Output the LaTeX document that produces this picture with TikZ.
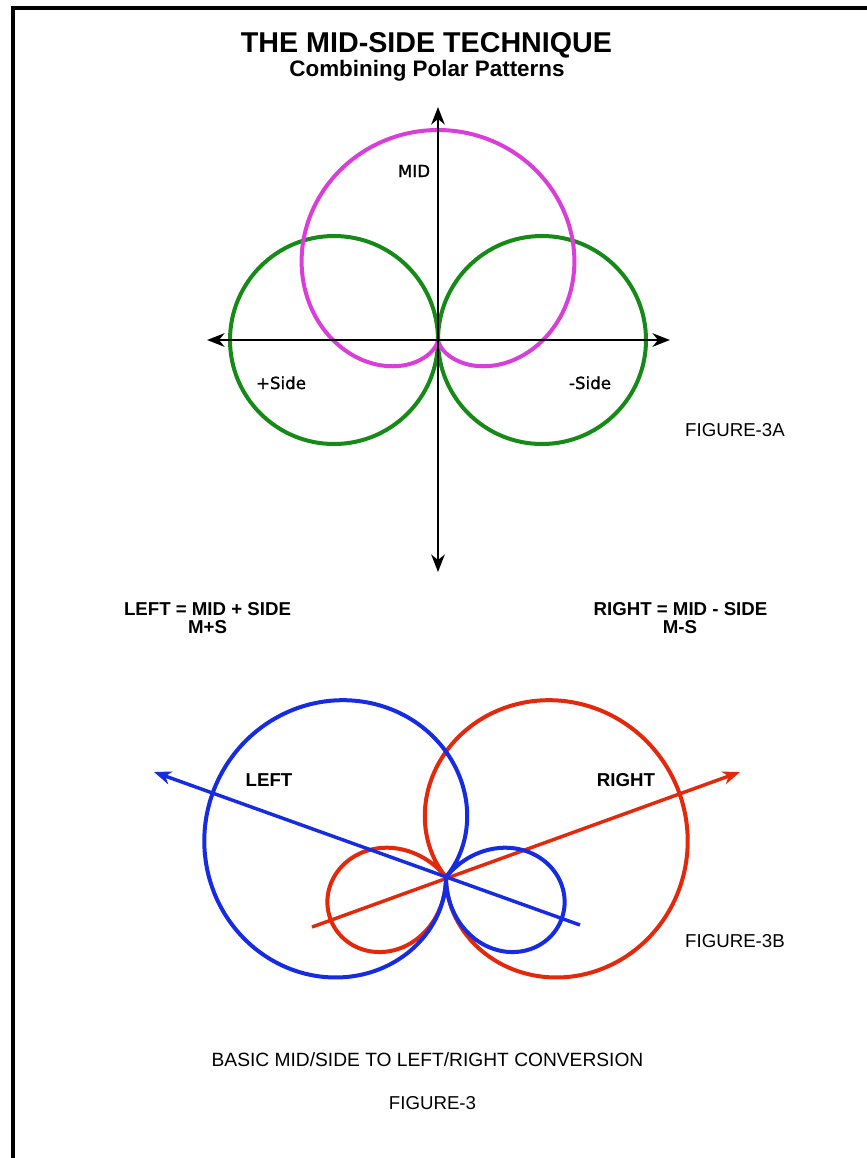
\documentclass[tikz,border=0pt]{standalone}
\usepackage{fontspec}
\setmainfont{Liberation Sans}
\newfontfamily\lblfont{DejaVu Sans}[FakeBold=1.2]
\usetikzlibrary{arrows.meta}
\definecolor{magentaP}{RGB}{218,62,218}
\definecolor{greenP}{RGB}{22,138,22}
\definecolor{blueP}{RGB}{22,44,226}
\definecolor{redP}{RGB}{228,40,12}
\tikzset{
  frameline/.style={line width=3pt,line join=miter},
  axisline/.style={line width=2.2pt,black,{Stealth[length=13pt,width=10pt,inset=4pt]}-{Stealth[length=13pt,width=10pt,inset=4pt]}},
  patt/.style={line width=3pt,line join=round},
  dirarrow/.style={line width=2.6pt,-{Stealth[length=13pt,width=10pt,inset=4pt]}},
  title/.style={font=\bfseries\fontsize{21.5}{24}\selectfont,anchor=base,inner sep=0pt},
  subtitle/.style={font=\bfseries\fontsize{16.8}{19}\selectfont,anchor=base,inner sep=0pt},
  plabel/.style={font=\lblfont\fontsize{12.5}{14}\selectfont,anchor=base,inner sep=0pt},
  eqlabel/.style={font=\bfseries\fontsize{14}{16}\selectfont,anchor=base,inner sep=0pt},
  figlabel/.style={font=\fontsize{14}{16}\selectfont,anchor=base,inner sep=0pt},
  caplabel/.style={font=\fontsize{14.4}{16}\selectfont,anchor=base,inner sep=0pt},
}
\begin{document}
\begin{tikzpicture}[x=0.75pt,y=-0.75pt]
\useasboundingbox (0,0) rectangle (867,1158);
\fill[white] (0,0) rectangle (867,1158);
% frame
\coordinate (fbl) at (12.5,1160);
\coordinate (ftl) at (12.5,8);
\coordinate (ftr) at (869,8);
\draw[frameline] (fbl) -- (ftl) -- (ftr);

% titles
\node[title] (t1) at (426.5,52.5) {THE MID-SIDE TECHNIQUE};
\node[subtitle] (t2) at (427,76) {Combining Polar Patterns};

% ---------- Figure 3A ----------
\coordinate (oA) at (438,340);
\draw[patt,greenP] (334,340) circle[radius=104];
\draw[patt,greenP] (542,340) circle[radius=104];
\draw[patt,magentaP] plot[domain=0:360,samples=241,smooth,variable=\t]
  ({438+105*(1+cos(\t+90))*cos(\t)},{340+105*(1+cos(\t+90))*sin(\t)});
\coordinate (hl) at (207,340);
\coordinate (hr) at (670,340);
\coordinate (vt) at (438,107);
\coordinate (vb) at (438,572);
\draw[axisline] (hl) -- (hr);
\draw[axisline] (vt) -- (vb);
\node[plabel] (mid) at (414,177) {MID};
\node[plabel] (ps) at (281,389) {+Side};
\node[plabel] (ms) at (590,389) {-Side};
\node[figlabel] (f3a) at (735,436) {FIGURE-3A};

% equations
\node[eqlabel] (eqL) at (207.5,615) {LEFT = MID + SIDE};
\node[eqlabel] (eqLs) at (207.5,633) {M+S};
\node[eqlabel] (eqR) at (680.5,615) {RIGHT = MID - SIDE};
\node[eqlabel] (eqRs) at (680,633) {M-S};

% ---------- Figure 3B ----------
\coordinate (oB) at (446,877);
\draw[patt,redP] plot[domain=0:360,samples=241,smooth,variable=\t]
  ({446+abs(62.5+185.5*cos(\t+19.8))*cos(\t)},{877+abs(62.5+185.5*cos(\t+19.8))*sin(\t)});
\coordinate (rs) at (312,927);
\coordinate (rt) at (740,772);
\draw[dirarrow,redP] (rs) -- (rt);
\draw[patt,blueP] plot[domain=0:360,samples=241,smooth,variable=\t]
  ({446+abs(62.5+185.5*cos(\t-199.8))*cos(\t)},{877+abs(62.5+185.5*cos(\t-199.8))*sin(\t)});
\coordinate (bs) at (580,925);
\coordinate (bt) at (154,772);
\draw[dirarrow,blueP] (bs) -- (bt);
\node[eqlabel] (lL) at (269,786) {LEFT};
\node[eqlabel] (lR) at (626,786) {RIGHT};
\node[figlabel] (f3b) at (735,947) {FIGURE-3B};

\node[caplabel] (cap) at (427.5,1066) {BASIC MID/SIDE TO LEFT/RIGHT CONVERSION};
\node[figlabel] (f3) at (432.5,1109) {FIGURE-3};
\end{tikzpicture}
\end{document}
